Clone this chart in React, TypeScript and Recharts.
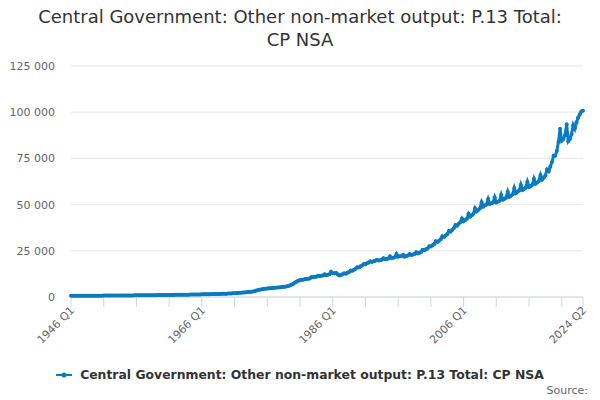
import { LineChart, Line, XAxis, YAxis, CartesianGrid } from "recharts";

document.body.style.margin = "0";

const FONT = "'DejaVu Sans', Verdana, sans-serif";
const LINE_COLOUR = "#0a7bc1";
const SERIES_NAME = "Central Government: Other non-market output: P.13 Total: CP NSA";

const firstYear = 1946;

// quarterly values, £ million, one row per year (Q1..Q4)
const quarterlyValues: number[] = [
  700, 680, 660, 650, // 1946
  640, 640, 650, 650,
  660, 660, 670, 680,
  690, 700, 700, 710,
  720, 720, 730, 740, // 1950
  750, 760, 770, 780,
  790, 800, 800, 810,
  820, 820, 830, 830,
  840, 840, 850, 850,
  860, 870, 870, 880, // 1955
  890, 900, 910, 920,
  930, 940, 950, 960,
  970, 980, 990, 1000,
  1010, 1020, 1030, 1040,
  1050, 1060, 1070, 1080, // 1960
  1100, 1110, 1120, 1140,
  1150, 1170, 1180, 1200,
  1210, 1230, 1240, 1260,
  1280, 1290, 1310, 1330,
  1350, 1370, 1390, 1410, // 1965
  1430, 1450, 1470, 1490,
  1510, 1530, 1560, 1580,
  1600, 1630, 1650, 1680,
  1700, 1730, 1760, 1790,
  1830, 1880, 1930, 1990, // 1970
  2050, 2120, 2190, 2260,
  2330, 2400, 2480, 2560,
  2650, 2750, 2850, 2960,
  3150, 3400, 3650, 3900,
  4100, 4250, 4400, 4500, // 1975
  4600, 4700, 4800, 4850,
  4950, 5000, 5100, 5150,
  5250, 5350, 5500, 5600,
  5750, 5950, 6300, 6700,
  7200, 7800, 8400, 8800, // 1980
  9200, 9300, 9400, 9700,
  9800, 9900, 10000, 10800,
  10700, 10900, 11000, 11500,
  11300, 11500, 11600, 12300,
  11800, 12000, 12300, 13700, // 1985
  12800, 12900, 13100, 12300,
  11700, 11900, 12300, 12800,
  12600, 13100, 13500, 14300,
  14200, 14800, 15300, 16100,
  16000, 16600, 17100, 17900, // 1990
  17700, 18300, 18700, 19300,
  19000, 19400, 19600, 20200,
  19700, 19900, 20200, 21000,
  20400, 20600, 20800, 22000,
  21100, 21300, 21500, 23300, // 1995
  21800, 22000, 22100, 22800,
  21800, 22200, 22400, 23300,
  22700, 23000, 23300, 24200,
  23600, 24000, 24400, 25600,
  25300, 25800, 26300, 27400, // 2000
  27300, 28000, 28600, 30200,
  29800, 30500, 31200, 32900,
  32500, 33300, 34000, 35700,
  35300, 36300, 37200, 39000,
  38500, 39600, 40500, 42500, // 2005
  41000, 41700, 42400, 45000,
  43500, 44300, 45100, 48000,
  46300, 47100, 47900, 51300,
  48900, 49500, 50000, 53000,
  50300, 50700, 51100, 54000, // 2010
  51200, 51600, 52100, 55300,
  52600, 53100, 53700, 57000,
  54200, 54800, 55500, 59000,
  56200, 56900, 57600, 60800,
  57900, 58500, 59100, 62400, // 2015
  59500, 60100, 60700, 64000,
  61300, 62000, 62800, 66000,
  63500, 64500, 65800, 69000,
  68000, 70500, 73000, 76500,
  76500, 79000, 84000, 91000, // 2020
  84500, 85500, 87500, 93500,
  84300, 85500, 88000, 93000,
  91000, 94500, 97000, 98800,
  100400, 100800, // 2024 Q1-Q2
];

const xTicks = [0, 20, 40, 60, 80, 100, 120, 140, 160, 180, 200, 220, 240, 260, 280, 300, 313];
const xLabelled = [0, 80, 160, 240, 313];
const yTicks = [0, 25000, 50000, 75000, 100000, 125000];

const quarterLabel = (i: number) => `${firstYear + Math.floor(i / 4)} Q${(i % 4) + 1}`;

const data = quarterlyValues.map((value, idx) => ({ idx, label: quarterLabel(idx), value }));

const formatThousands = (v: number) => String(v).replace(/\B(?=(\d{3})+(?!\d))/g, " ");

function RotatedTick({ x, y, payload }: any) {
  if (!xLabelled.includes(payload.value)) return null;
  return (
    <text
      x={x + 4}
      y={y + 4}
      transform={`rotate(-45, ${x + 4}, ${y + 4})`}
      textAnchor="end"
      fill="#666666"
      fontSize={11}
      fontFamily={FONT}
    >
      {quarterLabel(payload.value)}
    </text>
  );
}

export default function App() {
  return (
    <div style={{ position: "relative", width: 600, height: 400, fontFamily: FONT, background: "#fff" }}>
      <div
        style={{
          position: "absolute",
          top: 5,
          left: 10,
          width: 580,
          textAlign: "center",
          fontSize: 18,
          lineHeight: "23px",
          color: "#333333",
        }}
      >
        Central Government: Other non-market output: P.13 Total:
        <br />
        CP NSA
      </div>
      <LineChart width={600} height={400} data={data} margin={{ top: 66, right: 17, left: 0, bottom: 73 }}>
        <CartesianGrid horizontal vertical={false} stroke="#e6e6e6" />
        <XAxis
          type="number"
          dataKey="idx"
          domain={[0, 313]}
          ticks={xTicks}
          interval={0}
          height={30}
          tickSize={10}
          tickMargin={0}
          tickLine={{ stroke: "#ccd6eb" }}
          axisLine={{ stroke: "#ccd6eb" }}
          tick={<RotatedTick />}
        />
        <YAxis
          width={71}
          domain={[0, 125000]}
          ticks={yTicks}
          interval={0}
          axisLine={false}
          tickLine={false}
          tickMargin={10}
          tickFormatter={formatThousands}
          tick={{ fill: "#666666", fontSize: 11, fontFamily: FONT }}
        />
        <Line
          type="linear"
          dataKey="value"
          name={SERIES_NAME}
          stroke={LINE_COLOUR}
          strokeWidth={3}
          dot={{ r: 2, fill: LINE_COLOUR, stroke: LINE_COLOUR, strokeWidth: 0 }}
          activeDot={false}
          isAnimationActive={false}
        />
      </LineChart>
      <div
        style={{
          position: "absolute",
          top: 367,
          left: 0,
          width: 600,
          display: "flex",
          justifyContent: "center",
          alignItems: "center",
          fontSize: 12.4,
          fontWeight: "bold",
          color: "#333333",
        }}
      >
        <svg width={18} height={10} style={{ marginRight: 6 }}>
          <line x1={0} y1={5} x2={16} y2={5} stroke={LINE_COLOUR} strokeWidth={2} />
          <circle cx={8} cy={5} r={2.5} fill={LINE_COLOUR} />
        </svg>
        {SERIES_NAME}
      </div>
      <div style={{ position: "absolute", top: 384, right: 12, fontSize: 11, color: "#666666" }}>Source:</div>
    </div>
  );
}
